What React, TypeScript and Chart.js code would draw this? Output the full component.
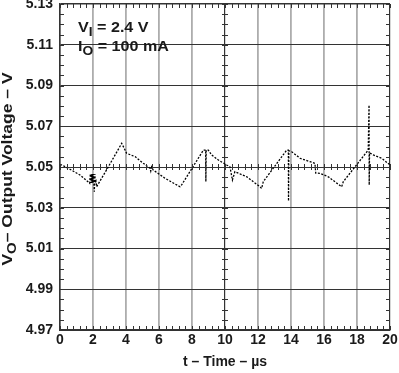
import React, { useEffect, useRef } from 'react';
import { Chart, registerables } from 'chart.js';

Chart.register(...registerables);

const xTicks = [0, 2, 4, 6, 8, 10, 12, 14, 16, 18, 20];
const yTicks = [4.97, 4.99, 5.01, 5.03, 5.05, 5.07, 5.09, 5.11, 5.13];

const timeUs = [
  0.0, 0.1, 0.5, 1.21, 1.8, 1.84, 1.87, 1.9, 1.93, 1.96, 1.99, 2.02, 2.05, 2.08, 2.11, 2.14, 2.18, 2.22,
  2.93, 3.74, 3.84, 4.04, 4.55, 5.05, 5.45, 5.5, 5.55, 5.65, 6.36, 7.27, 7.37,
  8.69, 8.83, 8.84, 8.86, 8.99, 9.19, 9.6, 10.1, 10.3, 10.45, 10.6, 11.32,
  12.12, 12.22, 12.32, 13.74, 13.84, 13.85, 13.87, 14.04, 14.55, 15.15, 15.45, 15.5,
  15.76, 16.26, 17.07, 17.17, 18.68, 18.73, 18.74, 18.76, 18.99, 19.5, 20.0,
];
const outputV = [
  5.051, 5.051, 5.0494, 5.0461, 5.042, 5.0466, 5.0422, 5.0466, 5.0422, 5.0466, 5.0422, 5.0466, 5.0422, 5.0379, 5.0466, 5.0422, 5.043, 5.0403,
  5.0501, 5.0616, 5.06, 5.0567, 5.0551, 5.0518, 5.0494, 5.048, 5.05, 5.0485, 5.0445, 5.0403, 5.0412,
  5.0583, 5.0583, 5.0428, 5.0583, 5.0583, 5.0559, 5.0534, 5.051, 5.0501, 5.0436, 5.0477, 5.0452,
  5.0403, 5.0395, 5.0428, 5.0583, 5.0583, 5.0333, 5.058, 5.0575, 5.0543, 5.0526, 5.0518, 5.047,
  5.0469, 5.0452, 5.0403, 5.0428, 5.0583, 5.0804, 5.0412, 5.057, 5.0559, 5.0543, 5.051,
];

const annotationLines = [
  [{ t: 'V' }, { t: 'I', sub: true }, { t: ' = 2.4 V' }],
  [{ t: 'I' }, { t: 'O', sub: true }, { t: ' = 100 mA' }],
];
const yTitle = [{ t: 'V' }, { t: 'O', sub: true }, { t: '– Output Voltage – V' }];
const xTitle = 't – Time – µs';

const FAMILY = "'Liberation Sans', Arial, Helvetica, sans-serif";
const TEXT = '#1a1a1a';

function drawParts(ctx: CanvasRenderingContext2D, parts: any[], x: number, y: number, size: number, center: boolean, stretch: number) {
  const main = `bold ${size}px ${FAMILY}`;
  const sub = `bold ${Math.round(size * 0.85)}px ${FAMILY}`;
  let w = 0;
  for (const p of parts) {
    ctx.font = p.sub ? sub : main;
    w += ctx.measureText(p.t).width;
  }
  ctx.save();
  ctx.translate(x, y);
  ctx.scale(stretch, 1);
  let cx = center ? -w / 2 : 0;
  for (const p of parts) {
    ctx.font = p.sub ? sub : main;
    ctx.fillText(p.t, cx, p.sub ? size * 0.3 : 0);
    cx += ctx.measureText(p.t).width;
  }
  ctx.restore();
}

const decorPlugin = {
  id: 'decor',
  afterDatasetsDraw(chart: any) {
    const { ctx, chartArea: a, scales } = chart;
    const xs = scales.x;
    const ys = scales.y;
    ctx.save();
    ctx.strokeStyle = '#333';
    ctx.lineWidth = 1;
    ctx.beginPath();
    const yc = ys.getPixelForValue(5.05);
    const xc = xs.getPixelForValue(10);
    for (let i = 0; i <= 50; i++) {
      const px = Math.round(xs.getPixelForValue(i * 0.4)) + 0.5;
      ctx.moveTo(px, a.top);
      ctx.lineTo(px, a.top + 4);
      ctx.moveTo(px, a.bottom);
      ctx.lineTo(px, a.bottom - 4);
      ctx.moveTo(px, yc - 3);
      ctx.lineTo(px, yc + 3);
    }
    for (let i = 0; i <= 32; i++) {
      const py = Math.round(ys.getPixelForValue(4.97 + i * 0.005)) + 0.5;
      ctx.moveTo(a.left, py);
      ctx.lineTo(a.left + 4, py);
      ctx.moveTo(a.right, py);
      ctx.lineTo(a.right - 4, py);
      ctx.moveTo(xc - 3, py);
      ctx.lineTo(xc + 3, py);
    }
    ctx.stroke();

    ctx.fillStyle = TEXT;
    ctx.textBaseline = 'alphabetic';
    ctx.textAlign = 'left';
    drawParts(ctx, annotationLines[0], a.left + 18, 32, 14, false, 1.15);
    drawParts(ctx, annotationLines[1], a.left + 18, 51, 14, false, 1.15);

    ctx.translate(8, (a.top + a.bottom) / 2 + 2);
    ctx.rotate(-Math.PI / 2);
    ctx.textBaseline = 'middle';
    drawParts(ctx, yTitle, 0, 0, 14, true, 1.25);
    ctx.restore();
  },
};

export default function App() {
  const ref = useRef<HTMLCanvasElement | null>(null);
  useEffect(() => {
    document.body.style.margin = '0';
    const font = { family: FAMILY, size: 14, weight: 'bold' as const };
    const chart = new Chart(ref.current as HTMLCanvasElement, {
      type: 'line',
      data: {
        datasets: [
          {
            data: timeUs.map((t, i) => ({ x: t, y: outputV[i] })),
            borderColor: '#000',
            borderWidth: 1.3,
            borderDash: [2, 1.5],
            pointRadius: 0,
            tension: 0,
            fill: false,
          },
        ],
      },
      options: {
        responsive: false,
        animation: false,
        devicePixelRatio: 1,
        layout: { padding: { left: 0, right: 9, top: 4, bottom: 0 } },
        plugins: { legend: { display: false }, tooltip: { enabled: false } },
        scales: {
          x: {
            type: 'linear',
            min: 0,
            max: 20,
            afterBuildTicks: (s: any) => {
              s.ticks = xTicks.map((v) => ({ value: v }));
            },
            afterFit: (s: any) => {
              s.height = 43;
              s.paddingLeft = 0;
              s.paddingRight = 0;
            },
            ticks: { font, color: TEXT, padding: 2, maxRotation: 0, autoSkip: false },
            grid: {
              drawTicks: false,
              color: (c: any) => (c.tick && (c.tick.value === 10 || c.tick.value === 20) ? '#333' : '#adadad'),
              lineWidth: (c: any) => (c.tick && (c.tick.value === 10 || c.tick.value === 20) ? 1.2 : 1.8),
            },
            border: { color: '#333', width: 1.5 },
            title: { display: true, text: xTitle, font, color: TEXT, padding: { top: 0, bottom: 2 } },
          },
          y: {
            type: 'linear',
            min: 4.97,
            max: 5.13,
            afterBuildTicks: (s: any) => {
              s.ticks = yTicks.map((v) => ({ value: v }));
            },
            afterFit: (s: any) => {
              s.width = 60;
              s.paddingTop = 0;
              s.paddingBottom = 0;
            },
            ticks: { font, color: TEXT, padding: 7, callback: (v: any) => Number(v).toFixed(2) },
            grid: {
              drawTicks: false,
              color: '#333',
              lineWidth: (c: any) => (c.tick && c.tick.value === 5.13 ? 1.5 : 1),
            },
            border: { color: '#333', width: 1.5 },
          },
        },
      },
      plugins: [decorPlugin],
    });
    return () => chart.destroy();
  }, []);
  return (
    <div style={{ position: 'fixed', left: 0, top: 0, width: 399, height: 373 }}>
      <canvas ref={ref} width={399} height={373} style={{ display: 'block' }} />
    </div>
  );
}
